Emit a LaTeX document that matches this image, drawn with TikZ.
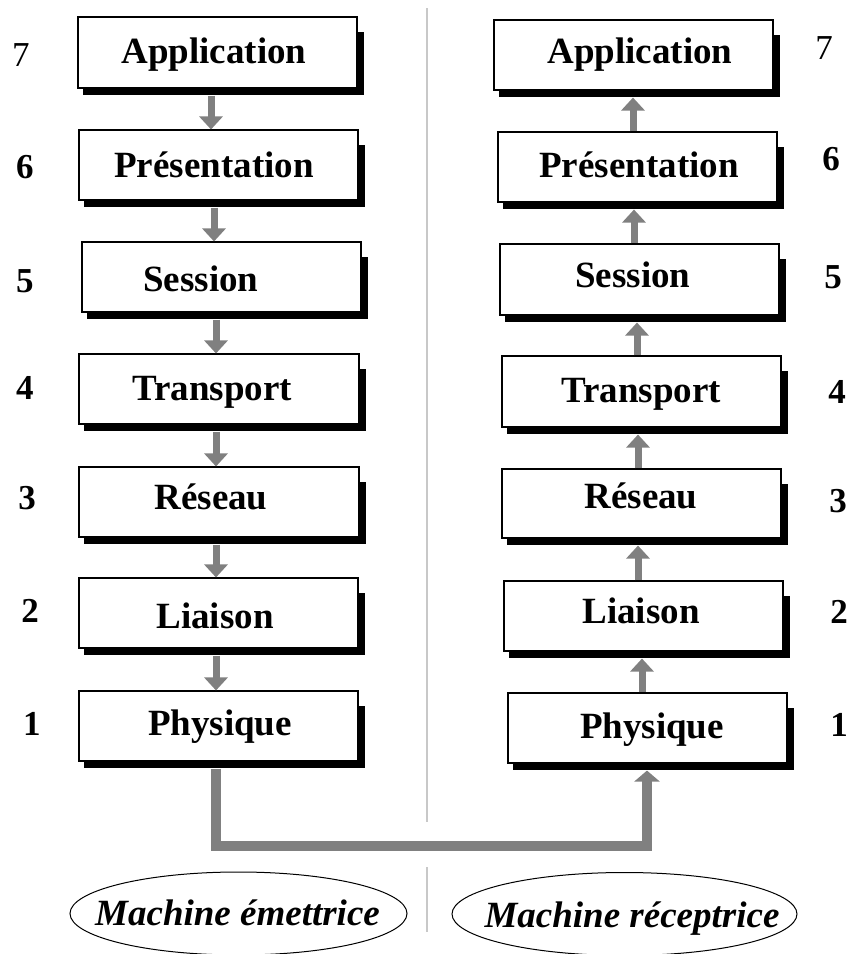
\documentclass[tikz,border=0pt]{standalone}
\usepackage{fontspec}
\setmainfont{Liberation Serif}
\usetikzlibrary{arrows.meta,shapes.geometric}
\definecolor{arrgray}{RGB}{128,128,128}
\definecolor{divgray}{RGB}{200,200,200}
\tikzset{
  layerbox/.style={draw=black, line width=1.1pt, fill=white, rectangle, inner sep=0pt, minimum width=279pt, minimum height=70pt},
  lbl/.style={anchor=base, inner sep=0pt, font=\fontsize{37}{40}\selectfont\bfseries},
  num/.style={inner sep=0pt, font=\fontsize{35}{38}\selectfont\bfseries},
  numreg/.style={inner sep=0pt, font=\fontsize{35}{38}\selectfont},
  updown/.style={draw=arrgray, line width=7pt, -{Triangle[width=23pt,length=13pt]}},
  bigarr/.style={draw=arrgray, line width=10pt, line join=miter, -{Triangle[width=25pt,length=11pt]}},
  divline/.style={draw=divgray, line width=1.5pt},
  ell/.style={draw=black, line width=1pt, ellipse, inner sep=0pt},
  elbl/.style={anchor=base, inner sep=0pt, font=\fontsize{37}{40}\selectfont\bfseries\itshape},
}
% name, cx, cy, w, h, text, dx, dy
\newcommand\osilayer[8]{%
  \fill[black] ({#2-#4/2+5},{#3-#5/2+15}) rectangle ({#2+#4/2+7},{#3+#5/2+7});
  \node[layerbox, minimum width=#4pt, minimum height=#5pt] (#1) at (#2,#3) {};
  \node[lbl] (#1-t) at ([shift={(#7,#8)}]#1.center) {#6};
}
\begin{document}
\begin{tikzpicture}[x=1pt,y=-1pt]
\useasboundingbox (0,0) rectangle (848,954);
% divider
\coordinate (d1) at (427,8);
\coordinate (d2) at (427,822);
\coordinate (d3) at (427,867);
\coordinate (d4) at (427,932);
\draw[divline] (d1) -- (d2);
\draw[divline] (d3) -- (d4);
% left column
\osilayer{L7}{217.5}{52.5}{279}{71}{Application}{-3.5}{10.5}
\osilayer{L6}{218.5}{165}{279}{70}{Présentation}{-4.5}{12}
\osilayer{L5}{221.5}{277}{279}{70}{Session}{-20.5}{14}
\osilayer{L4}{219}{389}{280}{70}{Transport}{-7}{11}
\osilayer{L3}{219}{502}{280}{70}{Réseau}{-8}{7}
\osilayer{L2}{218.5}{613}{279}{70}{Liaison}{-3.5}{15}
\osilayer{L1}{218.5}{726}{279}{70}{Physique}{1.5}{9}
% right column
\osilayer{R7}{633.5}{55}{279}{70}{Application}{6.5}{8}
\osilayer{R6}{637.5}{167}{279}{70}{Présentation}{1.5}{10}
\osilayer{R5}{639.5}{279.5}{279}{71}{Session}{-6.5}{7.5}
\osilayer{R4}{641.5}{391.5}{279}{71}{Transport}{-0.5}{11}
\osilayer{R3}{641.5}{503.5}{279}{69}{Réseau}{-0.5}{4.5}
\osilayer{R2}{643.5}{616}{279}{70}{Liaison}{-2.5}{7}
\osilayer{R1}{647.5}{728}{279}{70}{Physique}{4.5}{10}
% numbers
\node[numreg] (n7l) at (21,55) {7};
\node[num] (n6l) at (25,167) {6};
\node[num] (n5l) at (25,281) {5};
\node[num] (n4l) at (25,388) {4};
\node[num] (n3l) at (27,498) {3};
\node[num] (n2l) at (30,611) {2};
\node[num] (n1l) at (32,724) {1};
\node[numreg] (n7r) at (824,48) {7};
\node[num] (n6r) at (831,159) {6};
\node[num] (n5r) at (833,277) {5};
\node[num] (n4r) at (837,392) {4};
\node[num] (n3r) at (838,501) {3};
\node[num] (n2r) at (839,612) {2};
\node[num] (n1r) at (839,725) {1};
% left arrows (down)
\coordinate (xa) at (211,0);
\coordinate (xb) at (214,0);
\coordinate (xc) at (216,0);
\draw[updown] ([yshift=-7pt]L7.south -| xa) -- (L6.north -| xa);
\draw[updown] ([yshift=-7pt]L6.south -| xb) -- (L5.north -| xb);
\draw[updown] ([yshift=-7pt]L5.south -| xc) -- (L4.north -| xc);
\draw[updown] ([yshift=-7pt]L4.south -| xc) -- (L3.north -| xc);
\draw[updown] ([yshift=-7pt]L3.south -| xc) -- (L2.north -| xc);
\draw[updown] ([yshift=-7pt]L2.south -| xc) -- (L1.north -| xc);
% right arrows (up)
\coordinate (ya) at (633,0);
\coordinate (yb) at (634,0);
\coordinate (yc) at (637,0);
\coordinate (yd) at (638,0);
\coordinate (ye) at (642,0);
\draw[updown] (R6.north -| ya) -- ([yshift=-7pt]R7.south -| ya);
\draw[updown] (R5.north -| yb) -- ([yshift=-7pt]R6.south -| yb);
\draw[updown] (R4.north -| yc) -- ([yshift=-7pt]R5.south -| yc);
\draw[updown] (R3.north -| yd) -- ([yshift=-7pt]R4.south -| yd);
\draw[updown] (R2.north -| yd) -- ([yshift=-7pt]R3.south -| yd);
\draw[updown] (R1.north -| ye) -- ([yshift=-7pt]R2.south -| ye);
% big connector
\coordinate (cl) at (216,846);
\coordinate (cr) at (647,846);
\draw[bigarr] ([yshift=-7pt]L1.south -| cl) -- (cl) -- (cr) -- ([yshift=-7pt]R1.south -| cr);
% ellipses
\node[ell, minimum width=337pt, minimum height=83pt] (E1) at (238.5,913.5) {};
\node[elbl] (E1-t) at (237.5,925) {Machine émettrice};
\node[ell, minimum width=345pt, minimum height=83pt] (E2) at (624.5,914) {};
\node[elbl] (E2-t) at (632,927) {Machine réceptrice};
\end{tikzpicture}
\end{document}
